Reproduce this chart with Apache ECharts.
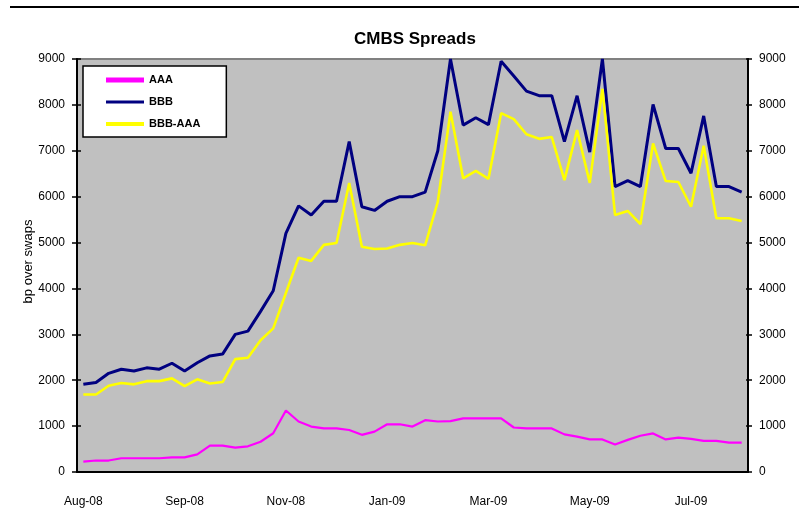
<!DOCTYPE html>
<html>
<head>
<meta charset="utf-8">
<title>CMBS Spreads</title>
<script src="https://cdn.jsdelivr.net/npm/echarts@6/dist/echarts.min.js"></script>
<style>
  html, body { margin: 0; padding: 0; background: #ffffff; }
  #chart { width: 799px; height: 518px; }
</style>
</head>
<body>
<div id="chart"></div>
<script>
// Weekly observation dates (Fridays), Aug 2008 to Jul 2009
const weeks = [
  '2008-08-01','2008-08-08','2008-08-15','2008-08-22','2008-08-29',
  '2008-09-05','2008-09-12','2008-09-19','2008-09-26',
  '2008-10-03','2008-10-10','2008-10-17','2008-10-24','2008-10-31',
  '2008-11-07','2008-11-14','2008-11-21','2008-11-28',
  '2008-12-05','2008-12-12','2008-12-19','2008-12-26',
  '2009-01-02','2009-01-09','2009-01-16','2009-01-23','2009-01-30',
  '2009-02-06','2009-02-13','2009-02-20','2009-02-27',
  '2009-03-06','2009-03-13','2009-03-20','2009-03-27',
  '2009-04-03','2009-04-10','2009-04-17','2009-04-24',
  '2009-05-01','2009-05-08','2009-05-15','2009-05-22','2009-05-29',
  '2009-06-05','2009-06-12','2009-06-19','2009-06-26',
  '2009-07-03','2009-07-10','2009-07-17','2009-07-24','2009-07-31'
];

const monthNames = ['Jan','Feb','Mar','Apr','May','Jun','Jul','Aug','Sep','Oct','Nov','Dec'];

// Spreads in bp over swaps
const aaa = [
  225, 250, 250, 300, 300, 300, 300, 320, 320, 385,
  575, 575, 530, 560, 660, 845, 1340, 1100, 990, 950,
  950, 915, 810, 880, 1040, 1040, 990, 1130, 1100, 1110,
  1170, 1170, 1170, 1170, 970, 950, 950, 950, 820, 770,
  710, 710, 600, 700, 790, 840, 710, 750, 720, 680,
  680, 640, 640
];
const bbb = [
  1910, 1950, 2150, 2240, 2200, 2270, 2240, 2370, 2200, 2380,
  2530, 2570, 3000, 3070, 3500, 3950, 5200, 5800, 5600, 5900,
  5900, 7200, 5780, 5700, 5900, 6000, 6000, 6100, 7000, 9000,
  7560, 7720, 7570, 8950, 8630, 8300, 8200, 8200, 7200, 8200,
  6970, 9000, 6220, 6350, 6220, 8010, 7050, 7050, 6510, 7760,
  6220, 6220, 6100
];
const bbbMinusAaa = [
  1690, 1690, 1880, 1940, 1910, 1980, 1980, 2040, 1870, 2020,
  1930, 1960, 2460, 2490, 2870, 3130, 3900, 4670, 4600, 4950,
  4990, 6300, 4910, 4860, 4870, 4950, 4990, 4940, 5890, 7850,
  6400, 6560, 6390, 7820, 7690, 7360, 7260, 7300, 6360, 7450,
  6300, 8350, 5600, 5690, 5400, 7160, 6340, 6320, 5780, 7110,
  5530, 5530, 5470
];

const seriesNames = ['AAA', 'BBB', 'BBB-AAA'];
const seriesColors = ['#ff00ff', '#000080', '#ffff00'];
const yMin = 0, yMax = 9000, yStep = 1000;

const FONT = '"Liberation Sans", Arial, sans-serif';

function weekLabel(d) {
  const [y, m] = d.split('-');
  return monthNames[parseInt(m, 10) - 1] + '-' + y.slice(2);
}

// Plain integers, no thousands separator
function plainNumber(v) {
  return String(v);
}

// Legend swatch: a horizontal bar of the given thickness inside a 38x14 box
function swatch(h) {
  const top = (14 - h) / 2, bot = top + h;
  return 'path://M0,0M38,14M0,' + top + 'L38,' + top + 'L38,' + bot + 'L0,' + bot + 'Z';
}

const chart = echarts.init(document.getElementById('chart'), null, { renderer: 'canvas' });

const valueAxisBase = {
  type: 'value', min: yMin, max: yMax, interval: yStep,
  splitLine: { show: false }
};

chart.setOption({
  animation: false,
  backgroundColor: '#ffffff',
  title: {
    text: 'CMBS Spreads',
    left: 349, top: 26,
    textStyle: { fontFamily: FONT, fontSize: 17, fontWeight: 'bold', color: '#000' }
  },
  legend: {
    orient: 'vertical',
    left: 83, top: 66,
    padding: [7, 26, 6, 23],
    backgroundColor: '#ffffff',
    borderColor: '#000000',
    borderWidth: 1.5,
    itemWidth: 38, itemHeight: 14, itemGap: 8,
    itemStyle: { borderWidth: 0 },
    textStyle: { fontFamily: FONT, fontSize: 11, fontWeight: 'bold', color: '#000' },
    data: [
      { name: seriesNames[0], icon: swatch(5) },
      { name: seriesNames[1], icon: swatch(3) },
      { name: seriesNames[2], icon: swatch(4) }
    ]
  },
  grid: {
    left: 77, right: 51, top: 59, bottom: 46,
    show: true, backgroundColor: '#c0c0c0',
    borderColor: '#808080', borderWidth: 2
  },
  xAxis: [
    {
      type: 'category', data: weeks, boundaryGap: true, position: 'bottom',
      axisLine: { lineStyle: { color: '#000', width: 2 } },
      axisTick: { interval: 7, length: 5, lineStyle: { color: '#000', width: 1.5 } },
      axisLabel: {
        interval: 7, margin: 24, formatter: weekLabel,
        fontFamily: FONT, fontSize: 12, color: '#000'
      },
      splitLine: { show: false }
    },
    {
      type: 'category', data: weeks, boundaryGap: true, position: 'bottom',
      axisLine: { show: false },
      axisTick: { interval: 7, inside: true, length: 5, lineStyle: { color: '#000', width: 1.5 } },
      axisLabel: { show: false },
      splitLine: { show: false }
    }
  ],
  yAxis: [
    Object.assign({}, valueAxisBase, {
      position: 'left',
      name: 'bp over swaps', nameLocation: 'middle', nameGap: 42,
      nameMoveOverlap: false,
      nameTextStyle: { fontFamily: FONT, fontSize: 13, color: '#000', padding: [0, 0, 0, 8] },
      axisLine: { show: true, lineStyle: { color: '#000', width: 2 } },
      axisTick: { show: true, length: 5, lineStyle: { color: '#000', width: 1.5 } },
      axisLabel: { margin: 12, formatter: plainNumber, fontFamily: FONT, fontSize: 12, color: '#000' }
    }),
    Object.assign({}, valueAxisBase, {
      position: 'right',
      axisLine: { show: true, lineStyle: { color: '#000', width: 2 } },
      axisTick: { show: true, length: 4, lineStyle: { color: '#000', width: 1.5 } },
      axisLabel: { margin: 11, formatter: plainNumber, fontFamily: FONT, fontSize: 12, color: '#000' }
    }),
    Object.assign({}, valueAxisBase, {
      position: 'left',
      axisLine: { show: false },
      axisTick: { show: true, inside: true, length: 4, lineStyle: { color: '#000', width: 1.5 } },
      axisLabel: { show: false }
    }),
    Object.assign({}, valueAxisBase, {
      position: 'right',
      axisLine: { show: false },
      axisTick: { show: true, inside: true, length: 2, lineStyle: { color: '#000', width: 1.5 } },
      axisLabel: { show: false }
    })
  ],
  series: [
    {
      name: seriesNames[0], type: 'line', data: aaa,
      symbol: 'none', color: seriesColors[0],
      lineStyle: { color: seriesColors[0], width: 2.2 }
    },
    {
      name: seriesNames[1], type: 'line', data: bbb,
      symbol: 'none', color: seriesColors[1],
      lineStyle: { color: seriesColors[1], width: 3 }
    },
    {
      name: seriesNames[2], type: 'line', data: bbbMinusAaa,
      symbol: 'none', color: seriesColors[2],
      lineStyle: { color: seriesColors[2], width: 2.6 }
    }
  ],
  graphic: [
    {
      type: 'line', silent: true,
      shape: { x1: 10, y1: 7, x2: 799, y2: 7 },
      style: { stroke: '#000', lineWidth: 2 }
    }
  ]
});
</script>
</body>
</html>
